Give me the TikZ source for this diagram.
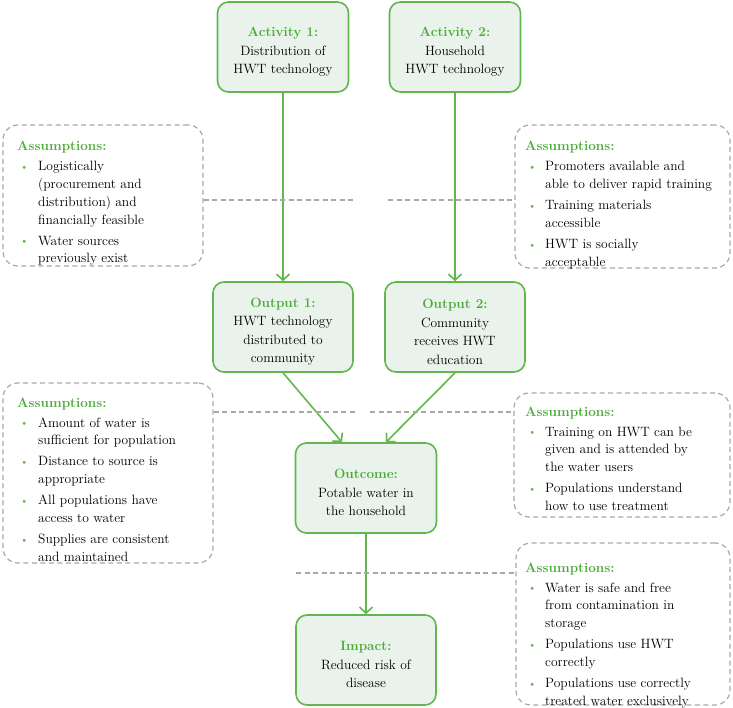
\documentclass[tikz,border=0pt]{standalone}
\usetikzlibrary{arrows.meta}

\definecolor{hwtgreen}{RGB}{98,182,78}
\definecolor{hwttitle}{RGB}{76,170,58}
\definecolor{hwtfill}{RGB}{233,243,235}
\definecolor{hwtgray}{RGB}{168,168,168}

\newcommand{\hwthead}[1]{\textcolor{hwttitle}{\textbf{#1}}}
\newcommand{\hwtstage}[1]{\rule{0pt}{19pt}\hwthead{#1}}
\newcommand{\hwtdot}{\hspace{3pt}\textcolor{hwtgreen}{\raisebox{0.5pt}{\fontsize{11}{11}\selectfont\textbullet}}}

\tikzstyle{stage} = [rectangle, rounded corners=11pt, draw=hwtgreen, line width=1.6pt, fill=hwtfill, minimum width=140pt, minimum height=90pt, align=center, font=\fontsize{13.5}{18.5}\selectfont]
\tikzstyle{assume} = [rectangle, rounded corners=15pt, draw=hwtgray, dash pattern=on 5pt off 3.5pt, line width=1.2pt, inner sep=0pt]
\tikzstyle{notes} = [anchor=base west, inner sep=0pt, font=\fontsize{13.5}{17.7}\selectfont]
\tikzstyle{arrow} = [hwtgreen, line width=1.6pt, -{Straight Barb[length=6pt,width=13pt]}]
\tikzstyle{link} = [hwtgray, line width=1.2pt, dash pattern=on 5pt off 3.5pt]

\begin{document}
\begin{tikzpicture}[x=1pt, y=1pt]
\useasboundingbox (0,0) rectangle (733,-708);

% results chain
\node (act1) [stage, minimum width=131pt] at (283,-47) {\hwtstage{Activity 1:}\\Distribution of\\HWT technology};
\node (act2) [stage, minimum width=131pt] at (455,-47) {\hwtstage{Activity 2:}\\Household\\HWT technology};
\node (out1) [stage] at (283,-327) {\hwtstage{Output 1:}\\HWT technology\\distributed to\\community};
\node (out2) [stage] at (455,-327) {\hwtstage{Output 2:}\\Community\\receives HWT\\education};
\node (outcome) [stage, minimum width=141pt] at (366,-488) {\hwtstage{Outcome:}\\Potable water in\\the household};
\node (impact) [stage] at (366,-660) {\hwtstage{Impact:}\\Reduced risk of\\disease};

\draw [arrow] (act1) -- (out1);
\draw [arrow] (act2) -- (out2);
\draw [arrow] (out1.south) -- ([xshift=-24pt]outcome.north);
\draw [arrow] (out2.south) -- ([xshift=20pt]outcome.north);
\draw [arrow] (outcome) -- (impact);

% assumption boxes
\node (as1) [assume, minimum width=200pt, minimum height=141pt] at (103,-195.5) {};
\node (as2) [assume, minimum width=215pt, minimum height=143pt] at (622.5,-196.5) {};
\node (as3) [assume, minimum width=210pt, minimum height=180pt] at (108,-473) {};
\node (as4) [assume, minimum width=216pt, minimum height=124pt] at (622,-455) {};
\node (as5) [assume, minimum width=214pt, minimum height=162pt] at (623,-624) {};

\node (as1txt) [notes] at (17,-151) {\begin{tabular}[t]{@{}p{21pt}@{}l@{}}
\multicolumn{2}{@{}l@{}}{\hwthead{Assumptions:}}\\[2.3pt]
\hwtdot & Logistically\\
 & (procurement and\\
 & distribution) and\\
 & financially feasible\\[3.5pt]
\hwtdot & Water sources\\
 & previously exist
\end{tabular}};
\node (as2txt) [notes] at (525,-151) {\begin{tabular}[t]{@{}p{20pt}@{}l@{}}
\multicolumn{2}{@{}l@{}}{\hwthead{Assumptions:}}\\[2.3pt]
\hwtdot & Promoters available and\\
 & able to deliver rapid training\\[3.5pt]
\hwtdot & Training materials\\
 & accessible\\[3.5pt]
\hwtdot & HWT is socially\\
 & acceptable
\end{tabular}};
\node (as3txt) [notes] at (17,-407) {\begin{tabular}[t]{@{}p{21pt}@{}l@{}}
\multicolumn{2}{@{}l@{}}{\hwthead{Assumptions:}}\\[2.3pt]
\hwtdot & Amount of water is\\
 & sufficient for population\\[3.5pt]
\hwtdot & Distance to source is\\
 & appropriate\\[3.5pt]
\hwtdot & All populations have\\
 & access to water\\[3.5pt]
\hwtdot & Supplies are consistent\\
 & and maintained
\end{tabular}};
\node (as4txt) [notes] at (525,-416) {\begin{tabular}[t]{@{}p{20pt}@{}l@{}}
\multicolumn{2}{@{}l@{}}{\hwthead{Assumptions:}}\\[2.3pt]
\hwtdot & Training on HWT can be\\
 & given and is attended by\\
 & the water users\\[3.5pt]
\hwtdot & Populations understand\\
 & how to use treatment
\end{tabular}};
\node (as5txt) [notes] at (525,-572) {\begin{tabular}[t]{@{}p{20pt}@{}l@{}}
\multicolumn{2}{@{}l@{}}{\hwthead{Assumptions:}}\\[2.3pt]
\hwtdot & Water is safe and free\\
 & from contamination in\\
 & storage\\[3.5pt]
\hwtdot & Populations use HWT\\
 & correctly\\[3.5pt]
\hwtdot & Populations use correctly\\
 & treated water exclusively
\end{tabular}};

% dashed links to the chain
\coordinate (l1) at (355,-200);
\coordinate (l2) at (388,-200);
\coordinate (l3) at (355,-412);
\coordinate (l4) at (370,-412);
\coordinate (l5) at (296,-573);
\draw [link] (l1 -| as1.east) -- (l1);
\draw [link] (l2) -- (l2 -| as2.west);
\draw [link] (l3 -| as3.east) -- (l3);
\draw [link] (l4) -- (l4 -| as4.west);
\draw [link] (l5) -- (l5 -| as5.west);
\end{tikzpicture}
\end{document}
